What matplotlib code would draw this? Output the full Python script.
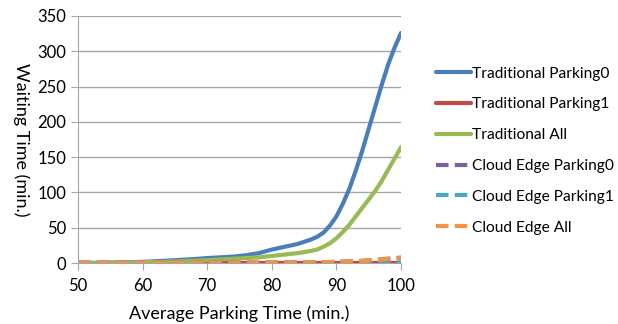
import matplotlib
matplotlib.use("Agg")
import matplotlib.pyplot as plt

# Daten
park_time = [50, 52, 54, 56, 58, 60, 62, 64, 66, 68, 70, 72, 74, 76, 78,
             80, 82, 84, 86, 87, 88, 89, 90, 91, 92, 93, 94, 95, 96, 97, 98, 99, 100]
trad_p0 = [0, 0, 0.3, 0.6, 1, 1.5, 2.5, 3.5, 4.5, 5.5, 7, 8, 9, 11, 14,
           19, 23, 27, 33, 37, 43, 53, 66, 84, 105, 131, 159, 190, 221, 252, 281, 305, 326]
trad_p1 = [0.3] * 33
trad_all = [0, 0, 0.2, 0.4, 0.6, 1, 1.5, 2, 2.5, 3, 4, 5, 6, 7, 8,
            10, 12, 14, 17, 19, 23, 28, 35, 44, 54, 66, 78, 90, 102, 116, 132, 148, 164]
ce_p0 = [0.5] * 13 + [0.6, 0.7, 0.8, 0.9, 1, 1.1, 1.2, 1.3, 1.4, 1.6, 1.9, 2.2, 2.6, 3,
                      3.7, 4.5, 5.2, 6, 6.8, 7.5]
ce_p1 = [0.2] * 29 + [0.4, 0.6, 0.8, 1]
ce_all = [0.5] * 13 + [0.6, 0.7, 0.8, 0.9, 1, 1.1, 1.2, 1.3, 1.4, 1.6, 1.9, 2.2, 2.6, 3,
                       3.7, 4.5, 5.2, 6, 6.8, 7.5]

plt.rcParams['font.family'] = ['Lato', 'DejaVu Sans']

fig = plt.figure(figsize=(6.18, 3.24), dpi=100)
ax = fig.add_axes([78 / 618, 1 - 263 / 324, (401 - 78) / 618, (263 - 16) / 324])

ax.plot(park_time, trad_p0, color='#4A7EBB', lw=3, label='Traditional Parking0', solid_capstyle='round')
ax.plot(park_time, trad_p1, color='#BE4B48', lw=3, label='Traditional Parking1', solid_capstyle='round')
ax.plot(park_time, trad_all, color='#98B954', lw=3, label='Traditional All', solid_capstyle='round')
ax.plot(park_time, ce_p0, color='#7D60A0', lw=3, ls=(0, (3, 1.5)), label='Cloud Edge Parking0')
ax.plot(park_time, ce_p1, color='#46AAC5', lw=3, ls=(0, (3, 1.5)), label='Cloud Edge Parking1')
ax.plot(park_time, ce_all, color='#F69240', lw=3, ls=(0, (3, 1.5)), label='Cloud Edge All')

ax.set_xlim(50, 100)
ax.set_ylim(0, 350)
ax.set_xticks(range(50, 101, 10))
ax.set_yticks(range(0, 351, 50))
ax.yaxis.grid(True, color='#A6A6A6', lw=1)
ax.set_axisbelow(True)
for s in ['top', 'right']:
    ax.spines[s].set_visible(False)
for s in ['left', 'bottom']:
    ax.spines[s].set_color('#A6A6A6')
ax.tick_params(axis='both', colors='#A6A6A6', labelcolor='black', labelsize=12, length=5)
ax.tick_params(axis='x', pad=6)

ax.set_xlabel('Average Parking Time (min.)', fontsize=13, labelpad=8)
ax.set_ylabel('Waiting Time (min.)', fontsize=13, rotation=270)
ax.yaxis.set_label_coords(-0.2, 0.5)

ax.legend(loc='upper left', bbox_to_anchor=(1.09, 0.82), frameon=False, fontsize=11.2,
          handlelength=2.2, handletextpad=0.1, labelspacing=1.08, borderaxespad=0)

fig.savefig('out.png', dpi=100)
